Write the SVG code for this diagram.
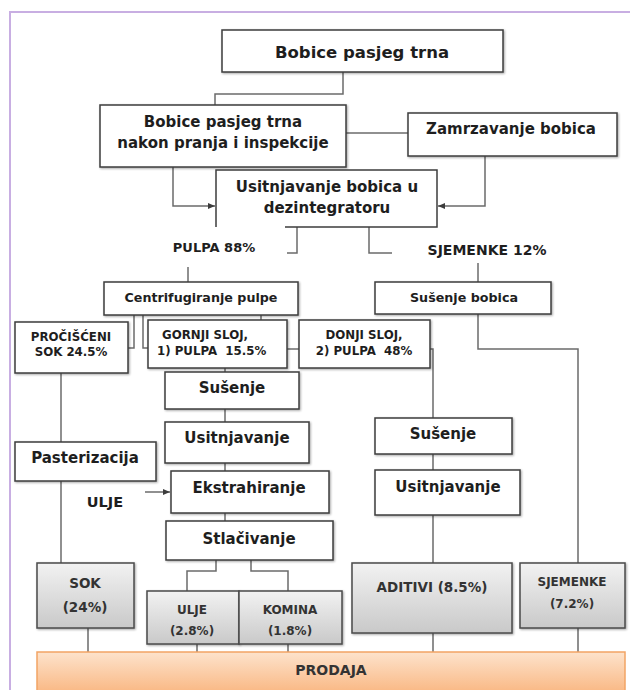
<svg xmlns="http://www.w3.org/2000/svg" width="630" height="690" viewBox="0 0 630 690">
<style>
.box{fill:#fff;stroke:#3c3c3c;stroke-width:1.5;filter:url(#sh)}
.g{fill:url(#gray);stroke:#4a4a4a;stroke-width:1.5;filter:url(#sh)}
.ln{fill:none;stroke:#6b6b6b;stroke-width:1.5}
text{font-family:"DejaVu Sans",Verdana,sans-serif;font-weight:bold;fill:#1e1e1e;text-anchor:middle}
.t15{font-size:15px}
.t13{font-size:12.7px}
.s{font-size:11.8px}
.b{fill:#333}
</style>
<defs>
<linearGradient id="gray" x1="0" y1="0" x2="0" y2="1"><stop offset="0" stop-color="#f2f2f2"/><stop offset="1" stop-color="#c9c9c9"/></linearGradient>
<linearGradient id="orange" x1="0" y1="0" x2="0" y2="1"><stop offset="0" stop-color="#fde3cc"/><stop offset="1" stop-color="#f9b27a"/></linearGradient>
<filter id="sh" x="-5%" y="-5%" width="115%" height="120%"><feDropShadow dx="1" dy="1" stdDeviation="0.8" flood-color="#000" flood-opacity="0.35"/></filter>
<marker id="ar" markerWidth="8" markerHeight="8" refX="7" refY="4" orient="auto" markerUnits="userSpaceOnUse"><path d="M0,1 L7,4 L0,7 z" fill="#3c3c3c"/></marker>
</defs>
<path d="M10,690 V12 H630" fill="none" stroke="#c8aee2" stroke-width="2"/>
<g id="connectors">
<path class="ln" d="M343,72 V94 H215 V105"/>
<path class="ln" d="M346,133 H408"/>
<path class="ln" d="M173,167 V206 H215" marker-end="url(#ar)"/>
<path class="ln" d="M485,156 V206 H438" marker-end="url(#ar)"/>
<path class="ln" d="M297,227 V253 H287"/>
<path class="ln" d="M369,227 V253 H392"/>
<path class="ln" d="M188,267 V282"/>
<path class="ln" d="M478,263 V282"/>
<path class="ln" d="M134,315 V348 H128"/>
<path class="ln" d="M143,315 V348 H148"/>
<path class="ln" d="M261,315 V320"/>
<path class="ln" d="M287,349 H299"/>
<path class="ln" d="M430,349 H433 V563"/>
<path class="ln" d="M478,314 V349 H578 V563"/>
<path class="ln" d="M61,373 V563"/>
<path class="ln" d="M225,368 V521"/>
<path class="ln" d="M145,492 H170" marker-end="url(#ar)"/>
<path class="ln" d="M216,560 V571 H187 V591"/>
<path class="ln" d="M251,560 V571 H288 V591"/>
<path class="ln" d="M88,628 V652 M197,644 V652 M288,644 V652 M433,633 V652 M578,628 V652"/>
</g>
<g id="n-bobice"><rect class="box" x="222" y="30" width="281" height="42"/><text x="362" y="58" style="font-size:16.5px">Bobice pasjeg trna</text></g>
<g id="n-pranje"><rect class="box" x="100" y="105" width="246" height="62"/><text class="t15" x="223" y="127">Bobice pasjeg trna</text><text class="t15" x="223" y="148">nakon pranja i inspekcije</text></g>
<g id="n-zamrz"><rect class="box" x="408" y="113" width="209" height="43"/><text class="t15" x="511" y="134">Zamrzavanje bobica</text></g>
<g id="n-dezint"><rect x="216" y="170" width="221" height="57" fill="#fff"/><path d="M216,227 V170 H437 V227 H285" fill="none" stroke="#3c3c3c" stroke-width="1.5"/><text class="t15" x="327" y="192">Usitnjavanje bobica u</text><text class="t15" x="327" y="213">dezintegratoru</text></g>
<g id="l-pulpa"><text x="214" y="252" style="font-size:13px">PULPA 88%</text></g>
<g id="l-sjem"><text x="487" y="255" style="font-size:14px">SJEMENKE 12%</text></g>
<g id="n-centri"><rect class="box" x="104" y="282" width="194" height="33"/><text class="t13" x="201" y="302">Centrifugiranje pulpe</text></g>
<g id="n-susbob"><rect class="box" x="375" y="282" width="176" height="32"/><text class="t13" x="464" y="302">Sušenje bobica</text></g>
<g id="n-procisc"><rect class="box" x="15" y="322" width="113" height="51"/><text class="s" x="71" y="341">PROČIŠĆENI</text><text class="s" x="71" y="356">SOK 24.5%</text></g>
<g id="n-gornji"><rect class="box" x="148" y="320" width="139" height="48"/><text class="s" x="162" y="339" style="text-anchor:start">GORNJI SLOJ,</text><text class="s" x="157" y="355" style="text-anchor:start" xml:space="preserve">1) PULPA  15.5%</text></g>
<g id="n-donji"><rect class="box" x="299" y="320" width="131" height="48"/><text class="s" x="364" y="339">DONJI SLOJ,</text><text class="s" x="364" y="355" xml:space="preserve">2) PULPA  48%</text></g>
<g id="n-susenje1"><rect class="box" x="165" y="372" width="134" height="37"/><text class="t15" x="232" y="393">Sušenje</text></g>
<g id="n-usitnj1"><rect class="box" x="165" y="422" width="144" height="41"/><text class="t15" x="237" y="443">Usitnjavanje</text></g>
<g id="n-ekstr"><rect class="box" x="171" y="471" width="158" height="42"/><text class="t15" x="249" y="493">Ekstrahiranje</text></g>
<g id="n-stlac"><rect class="box" x="166" y="521" width="167" height="39"/><text class="t15" x="249" y="544">Stlačivanje</text></g>
<g id="n-paster"><rect class="box" x="15" y="442" width="141" height="39"/><text class="t15" x="85" y="463">Pasterizacija</text></g>
<g id="l-ulje"><text x="105" y="507" style="font-size:14.5px">ULJE</text></g>
<g id="n-susenje2"><rect class="box" x="375" y="418" width="137" height="36"/><text class="t15" x="443" y="439">Sušenje</text></g>
<g id="n-usitnj2"><rect class="box" x="375" y="470" width="145" height="45"/><text class="t15" x="448" y="492">Usitnjavanje</text></g>
<g id="n-sok"><rect class="g" x="37" y="563" width="97" height="65"/><text class="b" x="85" y="588" style="font-size:13.5px">SOK</text><text class="b" x="85" y="612" style="font-size:13.5px">(24%)</text></g>
<g id="n-ulje"><rect class="g" x="147" y="591" width="92" height="53"/><text class="b" x="192" y="614" style="font-size:12px">ULJE</text><text class="b" x="192" y="635" style="font-size:12px">(2.8%)</text></g>
<g id="n-komina"><rect class="g" x="239" y="591" width="103" height="53"/><text class="b" x="290" y="614" style="font-size:12px">KOMINA</text><text class="b" x="290" y="635" style="font-size:12px">(1.8%)</text></g>
<g id="n-aditivi"><rect class="g" x="352" y="563" width="160" height="70"/><text class="b" x="432" y="592" style="font-size:13.5px">ADITIVI (8.5%)</text></g>
<g id="n-sjemenke"><rect class="g" x="520" y="563" width="105" height="65"/><text class="b" x="572" y="586" style="font-size:12px">SJEMENKE</text><text class="b" x="572" y="608" style="font-size:12px">(7.2%)</text></g>
<g id="n-prodaja"><rect x="37" y="652" width="588" height="46" fill="url(#orange)" stroke="#f2a464" stroke-width="1.5"/><text class="b" x="331" y="675" style="font-size:14px">PRODAJA</text></g>
</svg>
